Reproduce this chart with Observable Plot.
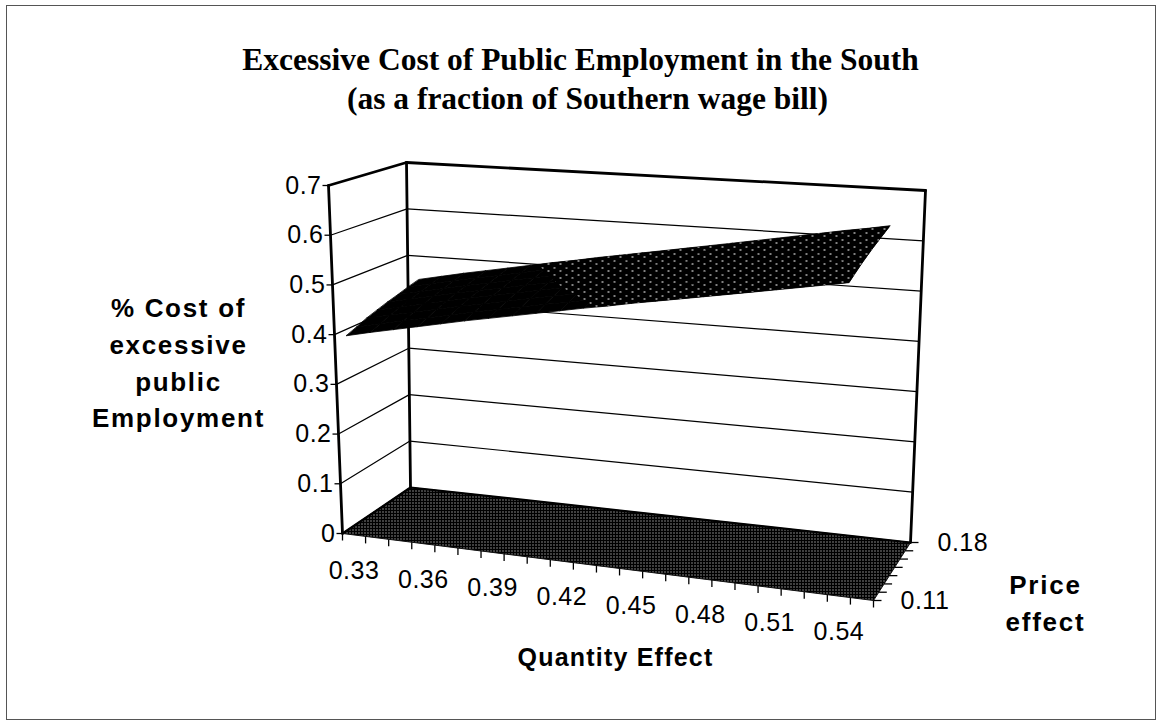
<!DOCTYPE html>
<html><head><meta charset="utf-8">
<script src="https://cdn.jsdelivr.net/npm/d3@7"></script>
<script src="https://cdn.jsdelivr.net/npm/@observablehq/plot@0.6"></script>
<style>body{margin:0;background:#fff;} #chart{width:1160px;height:722px;}</style>
</head><body><div id="chart"></div>
<script>
// ---------------- data ----------------
const quantityEffect = [0.33,0.34,0.35,0.36,0.37,0.38,0.39,0.40,0.41,0.42,0.43,0.44,0.45,0.46,0.47,0.48,0.49,0.50,0.51,0.52,0.53,0.54];
const priceEffect = [0.11,0.12,0.13,0.14,0.15,0.16,0.17,0.18];
const cost011 = [0.400,0.411,0.421,0.431,0.441,0.451,0.460,0.469,0.478,0.487,0.496,0.504,0.513,0.521,0.529,0.537,0.545,0.553,0.561,0.569,0.577,0.585];
const cost012 = [0.408,0.419,0.429,0.439,0.449,0.459,0.468,0.477,0.486,0.494,0.503,0.511,0.520,0.528,0.536,0.544,0.552,0.560,0.568,0.576,0.584,0.592];
const cost013 = [0.417,0.427,0.437,0.447,0.457,0.466,0.475,0.484,0.493,0.501,0.510,0.518,0.527,0.535,0.543,0.551,0.559,0.567,0.575,0.583,0.591,0.599];
const cost014 = [0.424,0.434,0.444,0.454,0.464,0.473,0.482,0.491,0.500,0.508,0.517,0.525,0.533,0.541,0.549,0.557,0.565,0.573,0.581,0.589,0.597,0.605];
const cost015 = [0.431,0.441,0.451,0.461,0.470,0.479,0.488,0.497,0.506,0.514,0.523,0.531,0.539,0.547,0.555,0.563,0.571,0.579,0.587,0.595,0.603,0.611];
const cost016 = [0.437,0.447,0.457,0.467,0.476,0.485,0.494,0.503,0.512,0.520,0.528,0.536,0.544,0.552,0.560,0.568,0.576,0.584,0.592,0.600,0.608,0.616];
const cost017 = [0.444,0.454,0.464,0.473,0.482,0.491,0.500,0.509,0.518,0.526,0.534,0.542,0.550,0.558,0.566,0.574,0.582,0.590,0.598,0.606,0.613,0.621];
const cost018 = [0.450,0.460,0.470,0.479,0.488,0.497,0.506,0.514,0.523,0.531,0.539,0.547,0.555,0.563,0.571,0.579,0.587,0.595,0.603,0.611,0.618,0.626];
const costSeries = [cost011,cost012,cost013,cost014,cost015,cost016,cost017,cost018];
const zTicks = [0,0.1,0.2,0.3,0.4,0.5,0.6,0.7];
const quantityLabels = [0.33,0.36,0.39,0.42,0.45,0.48,0.51,0.54];
const priceLabels = [0.11,0.18];
const bandBreak = 0.5;

// ---------------- layout (3D box corners on screen) ----------------
const W = 1160, H = 722;
const BOX = {FLB:[342,533], FRB:[873,600], BLB:[410,487], BRB:[910,542],
             FLT:[328,185], FRT:[887,223], BLT:[406,162], BRT:[925,190]};
const Q_BANDS = 23, Z_MAX = 0.7;
const proj = (u,v,w) => {
  const bil = (a,b,c,d) => [0,1].map(k => (1-u)*(1-v)*a[k] + u*(1-v)*b[k] + (1-u)*v*c[k] + u*v*d[k]);
  const bot = bil(BOX.FLB, BOX.FRB, BOX.BLB, BOX.BRB);
  const top = bil(BOX.FLT, BOX.FRT, BOX.BLT, BOX.BRT);
  return {x: bot[0] + w*(top[0]-bot[0]), y: bot[1] + w*(top[1]-bot[1])};
};
const uOf = j => (j + 0.5) / Q_BANDS;
const vOf = i => i / (priceEffect.length - 1);
const wOf = z => z / Z_MAX;

function poly(pts, id) { return pts.map(p => ({...proj(p[0],p[1],p[2]), id})); }
function seg(a, b, id) { return poly([a,b], id); }

// walls / floor
const floorPts = poly([[0,0,0],[1,0,0],[1,1,0],[0,1,0]], "floor");
const gridPts = [];
zTicks.filter(t => t > 0 && t < Z_MAX).forEach(t => {
  gridPts.push(...seg([0,0,wOf(t)],[0,1,wOf(t)], "L"+t));
  gridPts.push(...seg([0,1,wOf(t)],[1,1,wOf(t)], "B"+t));
});
const backEdges = [
  ...seg([0,1,0],[0,1,1],"blv"),
  ...seg([0,1,1],[1,1,1],"btop"),
  ...seg([0,0,1],[0,1,1],"ltop"),
];
const floorEdges = [...seg([0,0,0],[0,1,0],"fl"), ...seg([0,1,0],[1,1,0],"fb")];
const frontEdges = [...seg([0,0,0],[0,0,1],"flv"), ...seg([1,1,0],[1,1,1],"brv")];

// surface
function clipAbove(pl, t){
  const out=[];
  for (let k=0;k<pl.length;k++){
    const a=pl[k], b=pl[(k+1)%pl.length];
    const ina=a.z>=t, inb=b.z>=t;
    if (ina) out.push(a);
    if (ina!==inb){ const s=(t-a.z)/(b.z-a.z); out.push({u:a.u+s*(b.u-a.u), v:a.v+s*(b.v-a.v), z:t}); }
  }
  return out;
}
const surfBase = [], surfHigh = [];
for (let i = priceEffect.length - 2; i >= 0; i--) {
  for (let j = 0; j < quantityEffect.length - 1; j++) {
    const c = [[j,i],[j+1,i],[j+1,i+1],[j,i+1]].map(([jj,ii]) => ({u:uOf(jj), v:vOf(ii), z:costSeries[ii][jj]}));
    const id = i + "-" + j;
    c.forEach(p => surfBase.push({...proj(p.u,p.v,wOf(p.z)), id}));
    const hi = clipAbove(c, bandBreak);
    if (hi.length >= 3) hi.forEach(p => surfHigh.push({...proj(p.u,p.v,wOf(p.z)), id}));
  }
}

// ticks
const zTickSegs = zTicks.map(t => { const p = proj(0,0,wOf(t)); return {x1:p.x-6, y1:p.y, x2:p.x, y2:p.y}; });
const xTickSegs = d3.range(Q_BANDS+1).map(k => { const p = proj(k/Q_BANDS,0,0); return {x1:p.x, y1:p.y, x2:p.x, y2:p.y+7}; });
const pTickSegs = priceEffect.map((pe,i) => { const p = proj(1,vOf(i),0); return {x1:p.x, y1:p.y, x2:p.x+8, y2:p.y}; });

const zLab = zTicks.map(t => ({...proj(0,0,wOf(t)), text:String(t)}));
const xLab = quantityLabels.map(q => ({...proj(uOf(quantityEffect.indexOf(q)),0,0), text:q.toFixed(2)}));
const pLab = priceLabels.map(pv => ({...proj(1,vOf(priceEffect.indexOf(pv)),0), text:pv.toFixed(2)}));

const SANS = "Liberation Sans, Arial, sans-serif";
const SERIF = "Liberation Serif, Times New Roman, serif";

const chart = Plot.plot({
  width: W, height: H, margin: 0,
  x: {type:"linear", domain:[0,W], range:[0,W], axis:null},
  y: {type:"linear", domain:[0,H], range:[0,H], axis:null},
  marks: [
    Plot.frame({stroke:"#555", strokeWidth:1, insetLeft:6, insetTop:5, insetRight:5, insetBottom:3}),
    Plot.line(floorPts, {x:"x", y:"y", z:"id", fill:"#444", stroke:"#111", strokeWidth:1, curve:"linear-closed", ariaDescription:"floor"}),
    Plot.line(gridPts, {x:"x", y:"y", z:"id", stroke:"#000", strokeWidth:1.2}),
    Plot.line(backEdges, {x:"x", y:"y", z:"id", stroke:"#000", strokeWidth:2.8}),
    Plot.line(floorEdges, {x:"x", y:"y", z:"id", stroke:"#000", strokeWidth:2.2}),
    Plot.line(surfBase, {x:"x", y:"y", z:"id", fill:"#000", stroke:"#000", strokeWidth:0.8, curve:"linear-closed"}),
    Plot.line(surfHigh, {x:"x", y:"y", z:"id", fill:"#000", stroke:"none", curve:"linear-closed", ariaDescription:"dots"}),
    Plot.line(frontEdges, {x:"x", y:"y", z:"id", stroke:"#000", strokeWidth:2.8}),
    Plot.link(zTickSegs, {x1:"x1", y1:"y1", x2:"x2", y2:"y2", stroke:"#000", strokeWidth:1.3}),
    Plot.link(xTickSegs, {x1:"x1", y1:"y1", x2:"x2", y2:"y2", stroke:"#000", strokeWidth:1.3}),
    Plot.link(pTickSegs, {x1:"x1", y1:"y1", x2:"x2", y2:"y2", stroke:"#000", strokeWidth:1.3}),
    Plot.text(zLab, {x:"x", y:"y", text:"text", textAnchor:"end", dx:-7, fontSize:25, fontFamily:SANS, fill:"#000", ariaDescription:"ticklab"}),
    Plot.text(xLab, {x:"x", y:"y", text:"text", dy:36, fontSize:25, fontFamily:SANS, fill:"#000", ariaDescription:"ticklab"}),
    Plot.text(pLab, {x:"x", y:"y", text:"text", textAnchor:"start", dx:27, fontSize:25, fontFamily:SANS, fill:"#000", ariaDescription:"ticklab"}),
    Plot.text(["Excessive Cost of Public Employment in the South"], {x:()=>580, y:()=>59, text:d=>d, fontSize:31.5, fontWeight:"bold", fontFamily:SERIF, fill:"#000"}),
    Plot.text(["(as a fraction of Southern wage bill)"], {x:()=>587, y:()=>98, text:d=>d, fontSize:31.5, fontWeight:"bold", fontFamily:SERIF, fill:"#000"}),
    Plot.text(["% Cost of\nexcessive\npublic\nEmployment"], {x:()=>178, y:()=>360, text:d=>d, lineHeight:1.41, fontSize:26, fontWeight:"bold", fontFamily:SANS, fill:"#000", ariaDescription:"ztitle"}),
    Plot.text(["Quantity Effect"], {x:()=>615, y:()=>657, text:d=>d, fontSize:25, fontWeight:"bold", fontFamily:SANS, fill:"#000", ariaDescription:"xtitle"}),
    Plot.text(["Price\neffect"], {x:()=>1045, y:()=>600, text:d=>d, lineHeight:1.42, fontSize:26, fontWeight:"bold", fontFamily:SANS, fill:"#000", ariaDescription:"ptitle"})
  ]
});
const svg = d3.select(chart);
// fill patterns (floor hatch and upper colour band of the surface)
const defs = svg.insert("defs", ":first-child");
const fp = defs.append("pattern").attr("id","floorPat").attr("patternUnits","userSpaceOnUse").attr("width",3).attr("height",3);
fp.append("rect").attr("width",3).attr("height",3).attr("fill","#000");
fp.append("rect").attr("x",1).attr("y",1).attr("width",1).attr("height",1).attr("fill","#fff");
const dp = defs.append("pattern").attr("id","dotPat").attr("patternUnits","userSpaceOnUse").attr("width",12).attr("height",7);
dp.append("rect").attr("width",12).attr("height",7).attr("fill","#000");
dp.append("rect").attr("x",1).attr("y",1).attr("width",2).attr("height",1).attr("fill","#fff");
dp.append("rect").attr("x",7).attr("y",4).attr("width",2).attr("height",1).attr("fill","#fff");

const byDesc = d => svg.selectAll(`g[aria-description="${d}"]`);
byDesc("floor").attr("fill","url(#floorPat) #444").selectAll("path").attr("fill","url(#floorPat) #444");
byDesc("dots").attr("fill","url(#dotPat) #000").selectAll("path").attr("fill","url(#dotPat) #000");
byDesc("ztitle").style("letter-spacing","1.7px");
byDesc("ptitle").style("letter-spacing","1.8px");
byDesc("xtitle").style("letter-spacing","1.2px");
byDesc("ticklab").style("letter-spacing","0.5px");
document.getElementById("chart").appendChild(chart);
</script>
</body></html>
